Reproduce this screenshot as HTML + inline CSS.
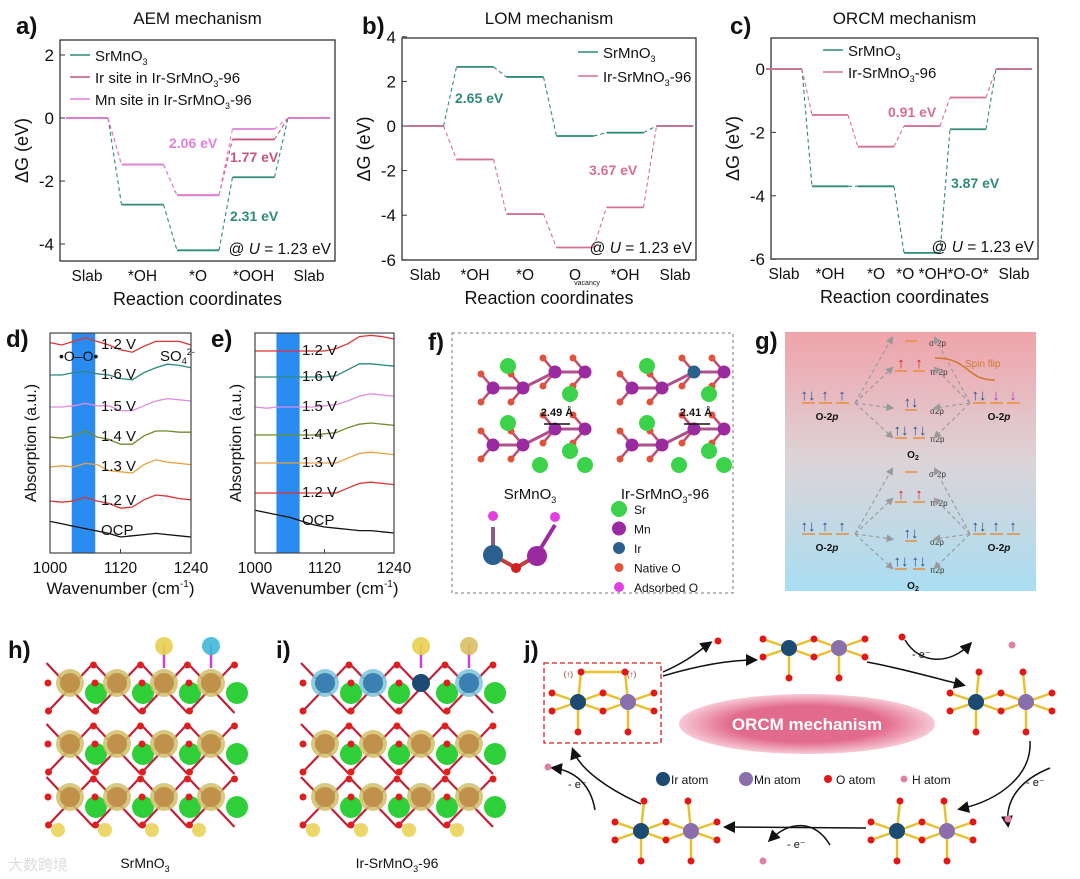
<!DOCTYPE html>
<html><head><meta charset="utf-8">
<style>
html,body{margin:0;padding:0;background:#fff;}
svg{display:block;font-family:"Liberation Sans",Arial,sans-serif;}
</style></head>
<body>
<svg id="fig" width="1080" height="879" viewBox="0 0 1080 879" xmlns="http://www.w3.org/2000/svg">
<defs>
<linearGradient id="gg" x1="0" y1="0" x2="0" y2="1">
<stop offset="0" stop-color="#f0a3aa"/><stop offset="0.5" stop-color="#dcd4d8"/><stop offset="1" stop-color="#a9def2"/>
</linearGradient>
<radialGradient id="pinkEll" cx="0.5" cy="0.5" r="0.5"><stop offset="0.6" stop-color="#e26a8a"/><stop offset="1" stop-color="#f6c9d6"/></radialGradient>
<marker id="ah" markerWidth="8" markerHeight="8" refX="6" refY="4" orient="auto"><path d="M0,0 L8,4 L0,8 z" fill="#111"/></marker>
<marker id="ag" markerWidth="7" markerHeight="7" refX="5" refY="3.5" orient="auto"><path d="M0,0 L7,3.5 L0,7 z" fill="#999"/></marker>
</defs>
<g id="root"></g>
</svg>
<script>
// ---------- chart data ----------
const aCats = ["Slab","*OH","*O","*OOH","Slab"];
const aSr = [0,-2.75,-4.2,-1.88,0];
const aIr = [0,-1.48,-2.45,-0.68,0];
const aMn = [0,-1.48,-2.45,-0.35,0];
const aTicks = [2,0,-2,-4];

const bCats = ["Slab","*OH","*O","O","*OH","Slab"];
const bSr = [0,2.65,2.2,-0.45,-0.3,0];
const bIr = [0,-1.5,-3.95,-5.45,-3.65,0];
const bTicks = [4,2,0,-2,-4,-6];

const cCats = ["Slab","*OH","*O","*O *OH","*O-O*","Slab"];
const cSr = [0,-3.7,-3.7,-5.8,-1.9,0];
const cIr = [0,-1.45,-2.45,-1.8,-0.9,0];
const cTicks = [0,-2,-4,-6];

const specX = [1000,1020,1040,1060,1080,1100,1120,1140,1160,1180,1200,1220,1240];
const specTicks = [1000,1120,1240];
const dLabels = ["1.2 V","1.6 V","1.5 V","1.4 V","1.3 V","1.2 V","OCP"];
const dColors = ["#d33","#2a8a80","#e08be0","#6e8a2a","#e8a040","#d33","#111"];
const dBase = [10.4,8.9,7.3,5.8,4.3,2.6,1.1];
const d0 = [0.2,0.0,0.3,0.6,0.3,0.0,-0.4,-0.6,-0.1,0.3,0.3,0.3,0.0];
const d1 = [0.0,0.0,0.2,0.3,0.1,0.0,-0.3,-0.4,0.2,0.6,0.9,0.8,0.6];
const d2 = [0.0,0.0,0.1,0.3,0.1,0.1,-0.3,-0.3,0.1,0.5,0.7,0.6,0.5];
const d3 = [0.0,-0.1,0.1,0.5,0.0,-0.2,-0.6,-0.6,0.1,0.5,0.5,0.4,0.4];
const d4 = [0.0,0.1,0.0,0.3,0.2,-0.3,-0.4,-0.5,0.2,0.6,0.4,0.3,0.2];
const d5 = [0.0,-0.1,0.0,0.3,0.0,-0.2,-0.6,-0.5,0.1,0.5,0.4,0.2,0.1];
const d6 = [0.8,0.6,0.4,0.2,0.0,-0.2,-0.5,-0.4,-0.3,-0.2,-0.3,-0.4,-0.5];
const eBase = [10.1,8.8,7.3,5.9,4.5,3.0,1.6];
const e0 = [0.0,0.0,0.0,0.0,0.0,0.0,0.0,0.2,0.6,1.2,1.3,1.2,1.0];
const e1 = [0.0,0.0,0.0,0.0,0.0,0.0,0.0,0.1,0.6,1.1,1.1,1.0,0.9];
const e2 = [0.0,-0.1,0.0,0.0,0.0,0.0,0.1,0.2,0.5,0.9,1.1,1.0,0.9];
const e3 = [0.0,0.0,0.0,0.0,0.0,0.0,0.1,0.2,0.6,0.9,1.0,0.9,0.8];
const e4 = [0.0,0.0,0.0,0.0,0.0,0.0,0.0,0.0,0.4,0.8,0.9,0.8,0.7];
const e5 = [0.0,0.0,0.0,0.0,0.0,0.0,0.0,0.0,0.4,0.8,0.9,0.8,0.7];
const e6 = [0.9,0.7,0.5,0.3,0.0,-0.3,-0.5,-0.6,-0.7,-0.8,-0.8,-0.9,-1.0];

// ---------- helpers ----------
const NS="http://www.w3.org/2000/svg";
const root=document.getElementById('root');
function mk(tag,attrs,parent){const e=document.createElementNS(NS,tag);for(const k in attrs)e.setAttribute(k,attrs[k]);(parent||root).appendChild(e);return e;}
function tx(x,y,s,size,opt,parent){opt=opt||{};const e=mk('text',{x:x,y:y,'font-size':size,fill:opt.fill||'#111','text-anchor':opt.anchor||'start','font-weight':opt.bold?'bold':'normal'},parent);if(opt.rot)e.setAttribute('transform','rotate(-90 '+x+' '+y+')');if(opt.italic)e.setAttribute('font-style','italic');e.innerHTML=s;return e;}

// ---------- energy diagrams ----------
function energy(cfg){
  const g=mk('g',{});
  
  
  const Y=v=>cfg.y0-v*cfg.k;
  const X=i=>cfg.cx0+i*cfg.step;
  const fr=mk('rect',{x:cfg.L,y:cfg.T,width:cfg.R-cfg.L,height:cfg.B-cfg.T,fill:'none',stroke:'#333','stroke-width':1.3},g);
  
  
  cfg.ticks.forEach(t=>{
    mk('line',{x1:cfg.L,x2:cfg.L+5,y1:Y(t),y2:Y(t),stroke:'#333'},g);
    const lb=tx(cfg.L-6,Y(t)+6,String(t),17,{anchor:'end'},g);
    
    
  });
  cfg.cats.forEach((c,i)=>{
    const lb=tx(X(i),cfg.B+20,c,15.5,{anchor:'middle'},g);
    
    
    if(cfg.sub && cfg.sub[i]) tx(X(i)+12,cfg.B+25,cfg.sub[i],7,{anchor:'middle'},g);
  });
  cfg.series.forEach(s=>{
    const sg=mk('g',{},g);
    
    
    s.vals.forEach((v,i)=>{
      const ln=mk('line',{x1:X(i)-cfg.w/2,x2:X(i)+cfg.w/2,y1:Y(v),y2:Y(v),stroke:s.color,'stroke-width':1.8},sg);
      
      
      if(i<s.vals.length-1){
        const cn=mk('line',{x1:X(i)+cfg.w/2,x2:X(i+1)-cfg.w/2,y1:Y(v),y2:Y(s.vals[i+1]),stroke:s.color,'stroke-width':1.1,'stroke-dasharray':'4 3'},sg);
        
        
      }
    });
  });
  cfg.legend.forEach((l,i)=>{
    const ly=cfg.legY+i*cfg.legDy;
    const ll=mk('line',{x1:cfg.legX,x2:cfg.legX+20,y1:ly,y2:ly,stroke:l[1],'stroke-width':1.5},g);
    
    
    const lt=tx(cfg.legX+25,ly+6,l[0],15,{},g);
    
    
  });
  tx((cfg.L+cfg.R)/2,cfg.B+44,'Reaction coordinates',18,{anchor:'middle'},g);
  tx(cfg.L-32,(cfg.T+cfg.B)/2,'ΔG (eV)',18,{anchor:'middle',rot:true},g);
  tx(cfg.R-4,cfg.B-7,'@ <tspan font-style="italic">U</tspan> = 1.23 eV',15.5,{anchor:'end'},g);
  tx((cfg.L+cfg.R)/2,24,cfg.title,17,{anchor:'middle'},g);
  tx(cfg.plX,34,cfg.pl,24,{bold:true},g);
  cfg.notes.forEach(n=>{const t=tx(n[0],n[1],n[2],14,{fill:n[3],bold:true},g);});
}
const SRC='SrMnO<tspan font-size="9" dy="4">3</tspan>';
const IRC='Ir-SrMnO<tspan font-size="9" dy="4">3</tspan><tspan dy="-4">-96</tspan>';
energy({name:'panel-a-aem',L:60,R:335,T:40,B:261,y0:118,k:31.5,cx0:87,step:55.5,w:42,cats:aCats,ticks:aTicks,
 series:[{name:'series-srmno3',vals:aSr,color:'#2f8a7c'},{name:'series-ir-site',vals:aIr,color:'#c5577a'},{name:'series-mn-site',vals:aMn,color:'#e27fd7'}],
 legend:[[SRC,'#2f8a7c'],['Ir site in '+IRC,'#c5577a'],['Mn site in '+IRC,'#e27fd7']],legX:70,legY:55,legDy:22,
 title:'AEM mechanism',pl:'a)',plX:16,notes:[[169,148,'2.06 eV','#e27fd7'],[230,162,'1.77 eV','#c5577a'],[230,221,'2.31 eV','#2f8a7c']]});
energy({name:'panel-b-lom',L:402,R:696,T:38,B:260,y0:126,k:22.3,cx0:425,step:50,w:37,cats:bCats,ticks:bTicks,sub:[0,0,0,'vacancy',0,0],
 series:[{name:'series-srmno3',vals:bSr,color:'#2f8a7c'},{name:'series-ir-srmno3-96',vals:bIr,color:'#d5708f'}],
 legend:[[SRC,'#2f8a7c'],[IRC,'#d5708f']],legX:578,legY:52,legDy:24,
 title:'LOM mechanism',pl:'b)',plX:362,notes:[[455,103,'2.65 eV','#2f8a7c'],[589,175,'3.67 eV','#d5708f']]});
energy({name:'panel-c-orcm',L:771,R:1038,T:38,B:259,y0:69,k:31.7,cx0:784,step:46,w:36,cats:cCats,ticks:cTicks,
 series:[{name:'series-srmno3',vals:cSr,color:'#2f8a7c'},{name:'series-ir-srmno3-96',vals:cIr,color:'#d5708f'}],
 legend:[[SRC,'#2f8a7c'],[IRC,'#d5708f']],legX:823,legY:50,legDy:22,
 title:'ORCM mechanism',pl:'c)',plX:730,notes:[[888,117,'0.91 eV','#d5708f'],[951,188,'3.87 eV','#2f8a7c']]});

// ---------- spectra ----------
function spectra(cfg){
  const g=mk('g',{});
  
  
  const X=v=>cfg.L+(v-1000)/240*(cfg.R-cfg.L);
  const Y=v=>cfg.B-v*cfg.k;
  const band=mk('rect',{x:X(1037),y:cfg.T,width:X(1077)-X(1037),height:cfg.B-cfg.T,fill:'#2a8cf0'},g);
  
  
  cfg.data.forEach((arr,j)=>{
    let d='';arr.forEach((v,i)=>{d+=(i?'L':'M')+X(specX[i]).toFixed(1)+','+Y(cfg.base[j]+v*cfg.amp).toFixed(1);});
    const p=mk('path',{d:d,fill:'none',stroke:dColors[j],'stroke-width':1.3},g);
    
    
    const t=tx(cfg.lx,Y(cfg.base[j])+4,dLabels[j],15,{},g);
    
    
  });
  const fr=mk('rect',{x:cfg.L,y:cfg.T,width:cfg.R-cfg.L,height:cfg.B-cfg.T,fill:'none',stroke:'#444','stroke-width':1.2},g);
  
  
  specTicks.forEach(t=>{mk('line',{x1:X(t),x2:X(t),y1:cfg.B,y2:cfg.B-4,stroke:'#444'},g);
    const l=tx(X(t),cfg.B+20,String(t),15.5,{anchor:'middle'},g);});
  tx((cfg.L+cfg.R)/2,cfg.B+41,'Wavenumber (cm<tspan font-size="10" dy="-7">-1</tspan><tspan dy="7">)</tspan>',17,{anchor:'middle'},g);
  tx(cfg.L-14,(cfg.T+cfg.B)/2,'Absorption (a.u.)',16,{anchor:'middle',rot:true},g);
  tx(cfg.L-44,cfg.T+14,cfg.pl,24,{bold:true},g);
}
spectra({name:'panel-d-ftir-srmno3',L:50,R:191,T:333,B:553,k:20,amp:0.6,base:dBase,data:[d0,d1,d2,d3,d4,d5,d6],lx:101,pl:'d)'});
spectra({name:'panel-e-ftir-ir',L:255,R:394,T:333,B:553,k:20,amp:0.6,base:eBase,data:[e0,e1,e2,e3,e4,e5,e6],lx:302,pl:'e)'});
tx(59,361,'•O–O•',14,{});
tx(160,361,'SO<tspan font-size="9" dy="3">4</tspan><tspan font-size="9" dy="-9">2-</tspan>',15,{});

// ---------- panel f ----------
(function(){
 const g=mk('g',{});
 
 
 mk('rect',{x:452,y:333,width:281,height:260,fill:'none',stroke:'#777','stroke-dasharray':'3 3'},g);
 tx(428,350,'f)',24,{bold:true},g);
 [465,604].forEach((ox,k)=>{
  [[0,0],[0,57]].forEach(o=>{
   const yy=388+o[1];
   const mn=[[ox+28,yy],[ox+58,yy],[ox+90,yy-16],[ox+120,yy-16]];
   const bonds=[[0,1],[1,2],[2,3]];
   bonds.forEach(b=>mk('line',{x1:mn[b[0]][0],y1:mn[b[0]][1],x2:mn[b[1]][0],y2:mn[b[1]][1],stroke:'#b0508a','stroke-width':3},g));
   mn.forEach((p,i)=>{
     mk('line',{x1:p[0],y1:p[1],x2:p[0]-12,y2:p[1]-14,stroke:'#c05070','stroke-width':2.5},g);
     mk('line',{x1:p[0],y1:p[1],x2:p[0]-12,y2:p[1]+14,stroke:'#c05070','stroke-width':2.5},g);
     mk('circle',{cx:p[0]-12,cy:p[1]-14,r:3.5,fill:'#e0523a'},g);
     mk('circle',{cx:p[0]-12,cy:p[1]+14,r:3.5,fill:'#e0523a'},g);
     mk('circle',{cx:p[0],cy:p[1],r:6.5,fill:(k==1&&o[1]==0&&i==2)?'#2a5f8e':'#9b2aa0'},g);
   });
   mk('circle',{cx:ox+43,cy:yy-22,r:8,fill:'#3cd24a'},g);
   mk('circle',{cx:ox+105,cy:yy+6,r:8,fill:'#3cd24a'},g);
  });
  mk('circle',{cx:ox+120,cy:465,r:8,fill:'#3cd24a'},g);
  mk('circle',{cx:ox+75,cy:465,r:8,fill:'#3cd24a'},g);
 });
 tx(557,416,'2.49 Å',11,{bold:true,anchor:'middle'},g);
 tx(696,416,'2.41 Å',11,{bold:true,anchor:'middle'},g);
 mk('line',{x1:544,x2:570,y1:424,y2:424,stroke:'#111','stroke-width':1.5},g);
 mk('line',{x1:684,x2:710,y1:424,y2:424,stroke:'#111','stroke-width':1.5},g);
 tx(530,499,SRC,15,{anchor:'middle'},g);
 tx(665,499,IRC,15,{anchor:'middle'},g);
 mk('line',{x1:493,y1:527,x2:493,y2:555,stroke:'#8a5a8a','stroke-width':4},g);
 mk('line',{x1:493,y1:555,x2:516,y2:568,stroke:'#c04040','stroke-width':4},g);
 mk('line',{x1:516,y1:568,x2:536,y2:556,stroke:'#c04040','stroke-width':4},g);
 mk('line',{x1:536,y1:556,x2:555,y2:525,stroke:'#9b2aa0','stroke-width':4},g);
 mk('circle',{cx:493,cy:555,r:10,fill:'#2a5f8e'},g);
 mk('circle',{cx:537,cy:556,r:10,fill:'#9b2aa0'},g);
 mk('circle',{cx:516,cy:568,r:5,fill:'#d02020'},g);
 mk('circle',{cx:493,cy:516,r:5,fill:'#e040e0'},g);
 mk('circle',{cx:555,cy:517,r:5,fill:'#e040e0'},g);
 const leg=[['Sr','#3cd24a',8],['Mn','#9b2aa0',7],['Ir','#2a5f8e',6],['Native O','#e0523a',4.5],['Adsorbed O','#e040e0',5]];
 leg.forEach((l,i)=>{const y=509+i*19.5;mk('circle',{cx:619,cy:y,r:l[2],fill:l[1]},g);
   const t=tx(634,y+5,l[0],12,{},g);});
})();

// ---------- panel g ----------
(function(){
 const g=mk('g',{});
 
 
 tx(755,349,'g)',24,{bold:true},g);
 mk('rect',{x:785,y:332,width:251,height:259,fill:'url(#gg)'},g);
 const lev=(x,y,w)=>mk('line',{x1:x,x2:x+w,y1:y,y2:y,stroke:'#e89040','stroke-width':1.6},g);
 const arr=(x,y,s,c)=>tx(x,y,s,15,{fill:c,bold:true,anchor:'middle'},g);
 [0,131].forEach((dy,k)=>{
  [802,819,836].forEach(x=>lev(x,403+dy,13));
  [973,990,1007].forEach(x=>lev(x,403+dy,13));
  arr(808,400+dy,'↑↓','#2a4f8e');arr(825,400+dy,'↑','#2a4f8e');arr(842,400+dy,'↑','#2a4f8e');
  arr(979,400+dy,'↑↓','#2a4f8e');
  arr(996,400+dy,k?'↑':'↓',k?'#2a4f8e':'#c030c0');arr(1013,400+dy,k?'↑':'↓',k?'#2a4f8e':'#c030c0');
  tx(827,420+dy,'O-2<tspan font-style="italic">p</tspan>',10,{bold:true,anchor:'middle'},g);
  tx(999,420+dy,'O-2<tspan font-style="italic">p</tspan>',10,{bold:true,anchor:'middle'},g);
  lev(905,341+dy,12);lev(895,371+dy,12);lev(913,371+dy,12);lev(905,410+dy,12);lev(895,438+dy,12);lev(913,438+dy,12);
  arr(901,368+dy,'↑','#e01818');arr(919,368+dy,'↑','#e01818');
  arr(911,407+dy,'↑↓','#2a4f8e');arr(901,435+dy,'↑↓','#2a4f8e');arr(919,435+dy,'↑↓','#2a4f8e');
  tx(913,458+dy,'O<tspan font-size="7" dy="2">2</tspan>',10,{bold:true,anchor:'middle'},g);
  tx(929,346+dy,'σ*2p',8,{fill:'#333'},g);tx(930,375+dy,'π*2p',8,{fill:'#333'},g);
  tx(930,414+dy,'σ2p',8,{fill:'#333'},g);tx(930,442+dy,'π2p',8,{fill:'#333'},g);
  [[855,403,892,338],[855,403,892,368],[855,403,892,408],[855,403,892,437],[970,403,935,338],[970,403,935,368],[970,403,935,408],[970,403,935,437]].forEach(a=>
    mk('line',{x1:a[0],y1:a[1]+dy,x2:a[2],y2:a[3]+dy,stroke:'#999','stroke-width':1.1,'stroke-dasharray':'4 3','marker-end':'url(#ag)'},g));
 });
 mk('path',{d:'M995,380 C965,380 970,358 935,358',fill:'none',stroke:'#d07a30','stroke-width':1.6},g);
 tx(965,367,'Spin flip',10,{fill:'#d07a30'},g);
})();

// ---------- panels h, i ----------
function slab(x0,sp,name,label,lx,blue){
 const g=mk('g',{});
 
 
 const rows=[683,744,797];
 for(let r=0;r<3;r++){const y=rows[r];
  for(let c=0;c<4;c++){const x=x0+c*sp;
    mk('line',{x1:x-sp/2,y1:y-20,x2:x+sp/2,y2:y+30,stroke:'#c02038','stroke-width':2.2},g);
    mk('line',{x1:x+sp/2,y1:y-20,x2:x-sp/2,y2:y+30,stroke:'#c02038','stroke-width':2.2},g);
  }}
 for(let r=0;r<3;r++){const y=rows[r];
  for(let c=0;c<4;c++){const x=x0+c*sp;
    const isBlue=blue&&r==0&&c!=2;
    const isIr=blue&&r==0&&c==2;
    if(!isIr)mk('circle',{cx:x,cy:y,r:14,fill:isBlue?'#7cc4d8':'#d0c068',opacity:0.85},g);
    mk('circle',{cx:x,cy:y,r:isIr?9:10,fill:isIr?'#1d4a72':(isBlue?'#3a80b0':'#c0914a')},g);
    mk('circle',{cx:x+26,cy:y+10,r:11,fill:'#2fcf3a'},g);
    mk('circle',{cx:x+sp/2,cy:y-18,r:3.5,fill:'#dd1f1f'},g);
    mk('circle',{cx:x-sp/2+2,cy:y+28,r:3.5,fill:'#dd1f1f'},g);
    mk('circle',{cx:x-22,cy:y,r:3.5,fill:'#dd1f1f'},g);
  }}
 const ax=[x0+2*sp,x0+3*sp];
 ax.forEach(x=>{mk('line',{x1:x,y1:668,x2:x,y2:645,stroke:'#d040d0','stroke-width':2.5},g);});
 mk('circle',{cx:ax[0],cy:646,r:9,fill:'#e8d050',opacity:0.9},g);
 mk('circle',{cx:ax[1],cy:646,r:9,fill:blue?'#d8c060':'#40b8d8',opacity:0.9},g);
 [0,1,2,3].forEach(c=>mk('circle',{cx:x0+c*sp-12,cy:830,r:7,fill:'#e8d050',opacity:0.85},g));
 tx(lx,868,label,14,{anchor:'middle'},g);
}
slab(70,47,'panel-h-srmno3-charge',SRC,145,false);
slab(325,48,'panel-i-ir-charge',IRC,397,true);
tx(8,658,'h)',24,{bold:true});
tx(276,658,'i)',24,{bold:true});
tx(8,870,'大数跨境',15,{fill:'#ddd'});

// ---------- panel j ----------
(function(){
 const g=mk('g',{});
 
 
 tx(524,658,'j)',24,{bold:true},g);
 const mol=(x,y,top)=>{
  const mx=x+50;
  const os=[[x-26,y-9],[x-26,y+9],[x+25,y-9],[x+25,y+9],[mx+26,y-9],[mx+26,y+9]];
  os.forEach((p,i)=>{
    if(i<4)mk('line',{x1:x,y1:y,x2:p[0],y2:p[1],stroke:'#e8c030','stroke-width':2.5},g);
    if(i>=2)mk('line',{x1:mx,y1:y,x2:p[0],y2:p[1],stroke:'#e8c030','stroke-width':2.5},g);
  });
  mk('line',{x1:x,y1:y,x2:x,y2:y+30,stroke:'#e8c030','stroke-width':2.5},g);
  mk('line',{x1:mx,y1:y,x2:mx,y2:y+30,stroke:'#e8c030','stroke-width':2.5},g);
  os.concat([[x,y+30],[mx,y+30]]).forEach(p=>mk('circle',{cx:p[0],cy:p[1],r:3.5,fill:'#e01818'},g));
  if(top){mk('line',{x1:x,y1:y,x2:x+3,y2:y-30,stroke:'#e8c030','stroke-width':2.5},g);
    mk('line',{x1:mx,y1:y,x2:mx-3,y2:y-30,stroke:'#e8c030','stroke-width':2.5},g);
    if(top==2)mk('line',{x1:x+3,y1:y-30,x2:mx-3,y2:y-30,stroke:'#e8c030','stroke-width':2.5},g);
    mk('circle',{cx:x+3,cy:y-30,r:3.5,fill:'#e01818'},g);mk('circle',{cx:mx-3,cy:y-30,r:3.5,fill:'#e01818'},g);}
  mk('circle',{cx:x,cy:y,r:8,fill:'#1d4a72'},g);
  mk('circle',{cx:mx,cy:y,r:8,fill:'#8a70aa'},g);
 };
 mol(578,702,2);mol(789,648,0);mol(976,702,1);mol(897,831,1);mol(641,831,1);
 mk('rect',{x:544,y:663,width:117,height:80,fill:'none',stroke:'#d02020','stroke-width':1.3,'stroke-dasharray':'5 3'},g);
 tx(573,677,'(↑)',8,{fill:'#a02020',anchor:'end'},g);tx(627,677,'(↑)',8,{fill:'#a02020'},g);
 mk('ellipse',{cx:807,cy:724,rx:128,ry:30,fill:'url(#pinkEll)'},g);
 tx(807,730,'ORCM mechanism',17,{fill:'#fff',bold:true,anchor:'middle'},g);
 const lg=[['Ir atom','#1d4a72',7,663],['Mn atom','#8a70aa',7,746],['O atom','#e01818',4,828],['H atom','#e080a0',3.5,904]];
 lg.forEach(l=>{mk('circle',{cx:l[3],cy:779,r:l[2],fill:l[1]},g);const t=tx(l[3]+8,784,l[0],12,{},g);});
 const arrows=['M663,676 C700,665 730,660 755,660','M867,662 C900,668 935,678 963,685','M1030,741 C1032,775 1000,800 960,809','M866,828 L726,827','M641,804 C610,790 580,770 573,750','M663,672 C690,660 700,650 710,643','M905,640 C920,665 950,665 970,644','M1050,768 C1020,780 1005,800 1008,825','M830,845 C815,820 790,820 770,840','M595,810 C590,780 570,770 553,768'];
 arrows.forEach(d=>{const p=mk('path',{d:d,fill:'none',stroke:'#111','stroke-width':1.5,'marker-end':'url(#ah)'},g);});
 [[718,641],[902,637],[1012,645],[1008,819],[763,861],[548,767]].forEach(p=>mk('circle',{cx:p[0],cy:p[1],r:3.5,fill:p[0]==718||p[0]==902?'#e01818':'#e080a0'},g));
 [['- e⁻',912,658],['- e⁻',1026,786],['- e⁻',787,848],['- e⁻',568,788]].forEach(t=>tx(t[1],t[2],t[0],11,{},g));
})();
</script>
</body></html>
